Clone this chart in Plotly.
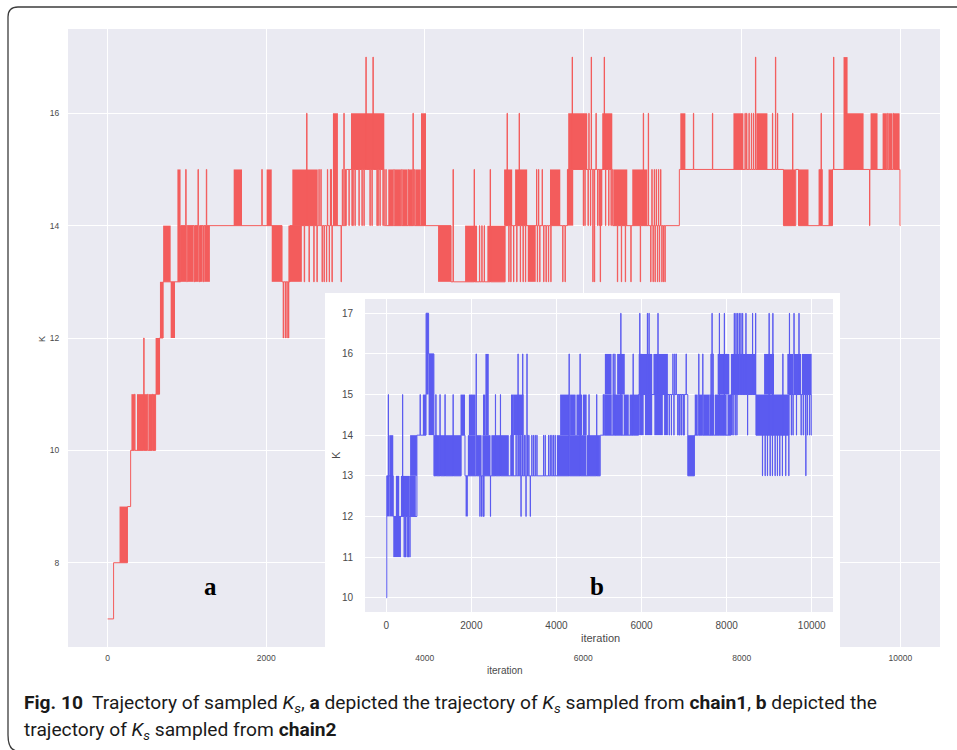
import plotly.graph_objects as go

W, H = 957, 750


def px(x):
    return x / W


def py(y):
    return 1 - y / H


RED = "#F35C5C"
BLUE = "#5B5BF0"
BG = "#EAEAF2"
TICK = "#4a4a4a"
FONT = "Liberation Sans"

x_ticks = [0, 2000, 4000, 6000, 8000, 10000]
x_tick_labels = ["0", "2000", "4000", "6000", "8000", "10000"]
main_y_ticks = [8, 10, 12, 14, 16]
inset_y_ticks = [10, 11, 12, 13, 14, 15, 16, 17]

# chain 1: (iteration, K) change points of the sampled trajectory
chain1_steps = [
    (0, 7), (75, 8), (250, 9), (290, 10),
    (340, 11), (345, 10), (455, 12), (460, 10), (505, 11), (510, 10), (565, 11), (570, 10),
    (605, 11), (655, 12), (700, 13), (920, 14),
    (985, 15), (990, 14), (998, 13), (1003, 14), (1093, 13), (1098, 14), (1140, 15), (1145, 14),
    (1158, 13), (1163, 14), (1210, 13), (1215, 14), (1245, 15), (1250, 14),
    (1945, 15), (1950, 14),
    (2200, 13), (2215, 12), (2218, 13), (2240, 12), (2243, 13), (2262, 12), (2265, 13),
    (2282, 12), (2285, 13),
    (2300, 14),
    (2480, 13), (2485, 14), (2510, 16), (2515, 14), (2540, 13), (2545, 14), (2600, 13), (2605, 14),
    (2640, 13), (2645, 14), (2665, 15), (2669, 14), (2690, 15), (2694, 14), (2705, 13), (2709, 14),
    (2730, 13), (2734, 14), (2760, 13), (2764, 14), (2772, 15), (2776, 14), (2795, 13), (2799, 14),
    (2810, 15), (2814, 14), (2820, 15), (2824, 14), (2830, 13), (2834, 14),
    (2945, 13), (2949, 14), (2960, 15), (2964, 14), (2980, 16), (2984, 14), (3000, 15), (3004, 14),
    (3010, 15), (3044, 14), (3048, 15), (3082, 14), (3086, 15), (3094, 14), (3098, 15),
    (3120, 14), (3124, 15), (3170, 14), (3174, 15), (3208, 14), (3212, 15), (3233, 14), (3237, 15),
    (3258, 17), (3262, 15), (3309, 14), (3313, 15), (3334, 14), (3338, 15), (3347, 17), (3351, 15),
    (3397, 14), (3401, 15), (3410, 14), (3414, 15), (3435, 14), (3439, 15), (3473, 14), (3477, 15),
    (3490, 14),
    (3510, 15), (3514, 14), (3610, 15), (3614, 14), (3710, 15), (3714, 14), (3790, 15), (3794, 14),
    (3852, 16), (3856, 14), (3865, 15), (3869, 14),
    (4332, 13), (4357, 15), (4362, 13), (4623, 15), (4628, 13), (4690, 14), (4694, 13),
    (4720, 14), (4724, 13), (4750, 14), (4754, 13), (4825, 15), (4830, 13),
    (5014, 14), (5039, 16), (5043, 14), (5060, 13), (5064, 14), (5085, 13), (5089, 14),
    (5120, 13), (5124, 14), (5160, 13), (5164, 14), (5191, 16), (5195, 14), (5205, 13), (5209, 14),
    (5240, 13), (5244, 14), (5270, 13), (5274, 14),
    (5410, 15), (5414, 14), (5420, 13), (5424, 14), (5435, 15), (5439, 14), (5450, 13), (5454, 14),
    (5481, 15), (5485, 14), (5500, 13), (5504, 14), (5530, 13), (5534, 14), (5560, 13), (5564, 14),
    (5590, 13), (5594, 14), (5740, 13), (5744, 14), (5770, 13), (5774, 14),
    (5800, 15), (5860, 17), (5864, 15),
    (6000, 14), (6004, 15), (6020, 14), (6024, 15), (6060, 14), (6064, 15), (6070, 16), (6074, 15),
    (6090, 14), (6094, 15), (6100, 17), (6104, 15), (6120, 13), (6124, 15), (6140, 13), (6144, 15),
    (6160, 16), (6164, 15), (6180, 14), (6184, 15), (6200, 14), (6204, 15), (6214, 13), (6218, 15),
    (6230, 14), (6234, 15), (6264, 17), (6268, 15), (6280, 14), (6284, 15), (6320, 14), (6324, 15),
    (6350, 14), (6354, 15),
    (6370, 14), (6430, 13), (6434, 14), (6480, 13), (6484, 14), (6530, 13), (6534, 14),
    (6600, 13), (6604, 14), (6719, 13), (6723, 14), (6757, 16), (6761, 14), (6820, 16), (6824, 14),
    (6850, 13), (6854, 14), (6865, 15), (6869, 14), (6880, 13), (6884, 14), (6895, 15), (6899, 14),
    (6905, 13), (6909, 14), (6920, 15), (6924, 14), (6935, 13), (6939, 14), (6948, 15), (6952, 14),
    (6960, 13), (6964, 14), (6975, 15), (6979, 14), (6990, 13), (6994, 14), (7010, 13), (7014, 14),
    (7030, 13), (7034, 14),
    (7212, 15), (7389, 16), (7393, 15), (7629, 16), (7633, 15),
    (8040, 16), (8044, 15), (8060, 16), (8064, 15), (8090, 16), (8094, 15), (8120, 16), (8124, 15),
    (8146, 16), (8150, 15), (8172, 17), (8176, 15), (8386, 16), (8390, 15), (8424, 17), (8428, 15),
    (8449, 16), (8453, 15),
    (8525, 14), (8640, 16), (8644, 14), (8680, 15), (8715, 14),
    (8975, 15), (8979, 14), (8990, 15), (8994, 14), (9000, 16), (9004, 14), (9010, 15), (9014, 14),
    (9144, 15), (9157, 17), (9161, 15), (9611, 14), (9615, 15), (9840, 16), (9844, 15),
    (9910, 16), (9914, 15),
    (9995, 14), (10000, 14),
]

# chain 1: windows where the chain alternates densely, (start, end, low K, high K)
chain1_blocks = [
    (150, 250, 8, 9),
    (300, 335, 10, 11), (370, 500, 10, 11), (520, 560, 10, 11), (580, 605, 10, 11),
    (605, 660, 11, 12), (660, 700, 12, 13), (700, 795, 13, 14), (795, 850, 12, 13), (880, 920, 13, 15),
    (925, 990, 13, 14), (1005, 1085, 13, 14), (1100, 1150, 13, 14), (1165, 1200, 13, 14),
    (1220, 1290, 13, 14),
    (1590, 1695, 14, 15), (2005, 2070, 14, 15), (2070, 2200, 13, 14),
    (2280, 2450, 13, 14), (2330, 2650, 14, 15),
    (2842, 2905, 14, 16),
    (3070, 3490, 15, 16),
    (3540, 3600, 14, 15), (3620, 3700, 14, 15), (3720, 3780, 14, 15), (3800, 3850, 14, 15),
    (3880, 3950, 14, 15), (3953, 4016, 14, 16),
    (4168, 4332, 13, 14), (4509, 4660, 13, 14), (4790, 5014, 13, 14),
    (5001, 5103, 14, 15), (5140, 5292, 14, 15), (5300, 5400, 13, 14),
    (5580, 5710, 14, 15), (5797, 5873, 14, 15), (5810, 6050, 15, 16), (6239, 6366, 15, 16),
    (6378, 6555, 14, 15), (6618, 6808, 14, 15),
    (7224, 7288, 15, 16), (7894, 8020, 15, 16), (8184, 8323, 15, 16),
    (8525, 8677, 14, 15), (8715, 8841, 14, 15), (9094, 9144, 14, 15),
    (9283, 9334, 15, 17), (9321, 9536, 15, 16), (9624, 9712, 15, 16), (9776, 9830, 15, 16),
    (9850, 9900, 15, 16), (9920, 9990, 15, 16),
]

# chain 2: (iteration, K) change points
chain2_steps = [
    (0, 10), (12, 13), (47, 15), (52, 13), (164, 12), (382, 15), (387, 12),
    (420, 11), (424, 12), (450, 11), (454, 12), (490, 11), (494, 12), (520, 11), (524, 12),
    (555, 11), (559, 12),
    (720, 14), (796, 15), (800, 14), (935, 17), (995, 16), (1120, 13),
    (1165, 15), (1169, 13), (1178, 14), (1182, 13), (1262, 15), (1266, 13), (1270, 14), (1274, 13),
    (1380, 15), (1384, 13), (1570, 15), (1574, 13),
    (1760, 14), (1850, 13),
    (2113, 16), (2117, 13), (2200, 12), (2204, 13), (2238, 12), (2242, 13), (2275, 12), (2279, 13),
    (2292, 12), (2296, 13), (2448, 12), (2452, 13), (2565, 15), (2569, 13), (2682, 15), (2686, 13),
    (2930, 14), (2934, 13), (3050, 14), (3054, 13), (3096, 16), (3100, 13), (3120, 14), (3124, 13),
    (3150, 14), (3154, 13), (3166, 12), (3170, 13), (3190, 14), (3194, 13), (3205, 16), (3209, 13),
    (3240, 14), (3244, 13), (3260, 14), (3264, 13), (3283, 12), (3287, 13), (3306, 16), (3310, 13),
    (3320, 14), (3324, 13), (3350, 14), (3354, 13), (3384, 12), (3388, 13), (3420, 14), (3424, 13),
    (3460, 14), (3464, 13), (3500, 14), (3504, 13), (3540, 14), (3544, 13), (3696, 14), (3700, 13),
    (3735, 14), (3739, 13), (3813, 14), (3817, 13), (3852, 14), (3856, 13), (3891, 14), (3895, 13),
    (3930, 14), (3934, 13), (3969, 14), (3973, 13),
    (4297, 16), (4301, 13), (4554, 16), (4558, 13), (4764, 15), (4768, 13), (4944, 15), (4948, 13),
    (5030, 14), (5100, 15), (5104, 14), (5120, 15), (5124, 14), (5333, 16), (5337, 14),
    (5372, 16), (5376, 14), (5512, 17), (5516, 14), (5801, 16), (5805, 14),
    (5930, 15), (5957, 17), (5961, 15), (6136, 17), (6140, 15), (6175, 17), (6179, 15),
    (6385, 17), (6389, 15),
    (6650, 14), (6654, 15), (6700, 14), (6704, 15), (6736, 16), (6740, 15), (6760, 14), (6764, 15),
    (6780, 16), (6784, 15), (6814, 16), (6818, 15), (6850, 14), (6854, 15), (6880, 14), (6884, 15),
    (6900, 14), (6904, 15), (6940, 14), (6944, 15), (6980, 14), (6984, 15), (7000, 14), (7004, 15),
    (7048, 16), (7052, 15),
    (7087, 13), (7243, 14), (7344, 16), (7348, 14), (7438, 16), (7442, 14), (7633, 16), (7637, 14),
    (7656, 17), (7660, 14), (7680, 16), (7684, 14), (7828, 17), (7832, 14), (7945, 17), (7949, 14),
    (8101, 15), (8150, 14), (8154, 15), (8179, 17), (8183, 15), (8200, 14), (8204, 15),
    (8218, 17), (8222, 15), (8240, 14), (8244, 15), (8257, 17), (8261, 15), (8296, 17), (8300, 15),
    (8335, 17), (8339, 15), (8374, 17), (8378, 15), (8452, 17), (8456, 15), (8491, 14), (8495, 15),
    (8608, 17), (8612, 15), (8680, 17), (8684, 15),
    (8690, 14), (8841, 13), (8845, 14), (8904, 13), (8908, 14), (8958, 13), (8962, 14),
    (8997, 17), (9001, 14), (9021, 13), (9025, 14), (9075, 13), (9079, 14), (9085, 17), (9089, 14),
    (9138, 13), (9142, 14), (9192, 13), (9196, 14), (9247, 13), (9251, 14), (9309, 13), (9313, 14),
    (9320, 16), (9324, 14), (9387, 13), (9391, 14), (9460, 13), (9464, 14),
    (9470, 15), (9475, 17), (9479, 15), (9520, 14), (9524, 15), (9560, 14), (9564, 15),
    (9582, 17), (9586, 15), (9640, 14), (9644, 15), (9699, 17), (9703, 15), (9750, 14), (9754, 15),
    (9800, 14), (9804, 15), (9850, 14), (9854, 15), (9860, 13), (9864, 15), (9900, 14), (9904, 15),
    (9950, 14), (9954, 15), (9990, 14), (9999, 14),
]

# chain 2: dense alternation windows, (start, end, low K, high K)
chain2_blocks = [
    (12, 70, 12, 13), (70, 164, 12, 14), (164, 345, 11, 12), (226, 304, 12, 13), (345, 538, 12, 13),
    (538, 694, 12, 13), (560, 720, 13, 14), (860, 935, 14, 15), (935, 995, 15, 17), (995, 1120, 14, 16),
    (1120, 1170, 13, 14), (1190, 1260, 13, 14), (1280, 1760, 13, 14), (1745, 1850, 14, 15),
    (1864, 1918, 12, 13),
    (1918, 2100, 13, 14), (1942, 2098, 14, 15), (2120, 2240, 13, 14), (2260, 2450, 13, 14),
    (2292, 2330, 14, 15), (2330, 2409, 14, 16), (2470, 2880, 13, 14),
    (2955, 3000, 13, 15), (3000, 3228, 14, 15),
    (4008, 4300, 13, 14), (4310, 4700, 13, 14), (4710, 5022, 13, 14), (4086, 4300, 14, 15),
    (4320, 4450, 14, 15), (4470, 4600, 14, 15), (4620, 4710, 14, 15),
    (5138, 5300, 14, 15), (5320, 5560, 14, 15), (5580, 5700, 14, 15), (5720, 5960, 14, 15),
    (5138, 5294, 15, 16), (5426, 5606, 15, 16),
    (5933, 6250, 15, 16), (6280, 6619, 15, 16), (5960, 6050, 14, 15), (6080, 6250, 14, 15),
    (6300, 6500, 14, 15), (6530, 6620, 14, 15),
    (7087, 7243, 13, 14), (7250, 7320, 14, 15), (7350, 7430, 14, 15), (7450, 7594, 14, 15),
    (7594, 7700, 14, 15), (7720, 8000, 14, 15), (8020, 8140, 14, 15), (7789, 8062, 15, 16),
    (8101, 8300, 15, 16), (8310, 8686, 15, 16),
    (8686, 9465, 14, 15), (8880, 9114, 15, 16),
    (9426, 9560, 15, 16), (9580, 9750, 15, 16), (9770, 9999, 15, 16),
]


def bar_trace(blocks, color, xa, ya):
    return go.Bar(
        x=[(s + e) / 2 for s, e, lo, hi in blocks],
        width=[e - s for s, e, lo, hi in blocks],
        base=[lo for s, e, lo, hi in blocks],
        y=[hi - lo for s, e, lo, hi in blocks],
        marker=dict(color=color, line=dict(width=0)),
        xaxis=xa, yaxis=ya, hoverinfo="skip", showlegend=False,
    )


def line_trace(steps, color, xa, ya):
    return go.Scatter(
        x=[s[0] for s in steps], y=[s[1] for s in steps],
        mode="lines", line=dict(color=color, width=1, shape="hv"),
        xaxis=xa, yaxis=ya, hoverinfo="skip", showlegend=False,
    )


fig = go.Figure()
fig.add_trace(bar_trace(chain1_blocks, RED, "x", "y"))
fig.add_trace(line_trace(chain1_steps, RED, "x", "y"))
# white frame behind the inset
fig.add_trace(go.Scatter(
    x=[-1, 2, 2, -1, -1], y=[-1, -1, 2, 2, -1], mode="lines", fill="toself",
    fillcolor="white", line=dict(width=0), xaxis="x2", yaxis="y2",
    hoverinfo="skip", showlegend=False,
))
fig.add_trace(bar_trace(chain2_blocks, BLUE, "x3", "y3"))
fig.add_trace(line_trace(chain2_steps, BLUE, "x3", "y3"))

common = dict(showgrid=True, gridcolor="white", gridwidth=1, zeroline=False,
              showline=False, ticks="outside", tickcolor="rgba(0,0,0,0)")

fig.update_layout(
    width=W, height=H, autosize=False,
    margin=dict(l=0, r=0, t=0, b=0),
    paper_bgcolor="white", plot_bgcolor=BG,
    barmode="overlay", showlegend=False,
    xaxis=dict(domain=[px(68), px(940)], range=[-500, 10500], tickvals=x_ticks,
               ticktext=x_tick_labels, ticklen=3,
               tickfont=dict(size=8.5, color=TICK, family=FONT), anchor="y", **common),
    yaxis=dict(domain=[py(647), py(29)], range=[6.5, 17.5], tickvals=main_y_ticks,
               ticktext=[str(v) for v in main_y_ticks], ticklen=6,
               tickfont=dict(size=8.5, color=TICK, family=FONT), anchor="x", **common),
    xaxis2=dict(domain=[px(325), px(840)], range=[0, 1], visible=False, anchor="y2"),
    yaxis2=dict(domain=[py(648), py(293)], range=[0, 1], visible=False, anchor="x2"),
    xaxis3=dict(domain=[px(365), px(833)], range=[-500, 10500], tickvals=x_ticks,
                ticktext=x_tick_labels, ticklen=4,
                tickfont=dict(size=10, color=TICK, family=FONT), anchor="y3", **common),
    yaxis3=dict(domain=[py(612), py(299)], range=[9.65, 17.35], tickvals=inset_y_ticks,
                ticktext=[str(v) for v in inset_y_ticks], ticklen=9,
                tickfont=dict(size=10, color=TICK, family=FONT), anchor="x3", **common),
)

ann = [
    dict(x=px(42), y=py(339), text="K", textangle=-90, font=dict(size=9, color=TICK, family=FONT)),
    dict(x=px(505), y=py(670), text="iteration", font=dict(size=10, color=TICK, family=FONT)),
    dict(x=px(336), y=py(455), text="K", textangle=-90, font=dict(size=11, color=TICK, family=FONT)),
    dict(x=px(600), y=py(638), text="iteration", font=dict(size=11, color=TICK, family=FONT)),
    dict(x=px(210), y=py(586), text="<b>a</b>", font=dict(size=25, color="black", family="Liberation Serif")),
    dict(x=px(597), y=py(586), text="<b>b</b>", font=dict(size=25, color="black", family="Liberation Serif")),
    dict(x=px(22), y=py(703), xanchor="left",
         text="<b>Fig. 10</b>  Trajectory of sampled <i>K<sub>s</sub></i>, <b>a</b> depicted the trajectory of "
              "<i>K<sub>s</sub></i> sampled from <b>chain1</b>, <b>b</b> depicted the",
         font=dict(size=19.2, color="#1a1a1a", family="Roboto")),
    dict(x=px(22), y=py(730), xanchor="left",
         text="trajectory of <i>K<sub>s</sub></i> sampled from <b>chain2</b>",
         font=dict(size=19.2, color="#1a1a1a", family="Roboto")),
]
for a in ann:
    a.setdefault("xanchor", "center")
    fig.add_annotation(xref="paper", yref="paper", yanchor="middle", showarrow=False, **a)

# rounded outer frame
r = 10
path = (f"M {px(8)} {py(735)} L {px(8)} {py(7 + r)} Q {px(8)} {py(7)} {px(8 + r)} {py(7)} "
        f"L {px(965)} {py(7)} M {px(8)} {py(735)} Q {px(8)} {py(751)} {px(8 + r)} {py(751)}")
fig.add_shape(type="path", xref="paper", yref="paper", path=path,
              line=dict(color="#3c3c3c", width=1.3), layer="above")

fig.write_html("out.html")
